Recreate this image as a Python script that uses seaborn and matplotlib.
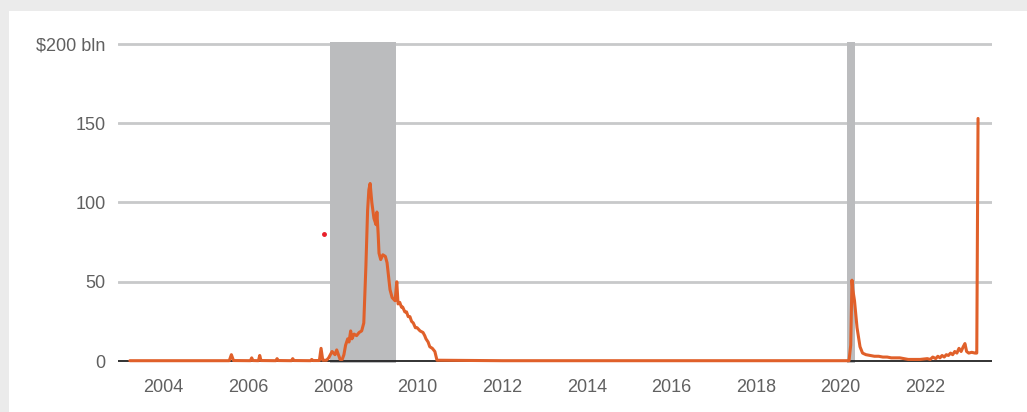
import numpy as np
import pandas as pd
import seaborn as sns
import matplotlib.pyplot as plt
from matplotlib.patches import Rectangle

# discount window borrowing, $ bln (decimal years)
years = [2003.2, 2005.55, 2005.6, 2005.65, 2006.05, 2006.08, 2006.11, 2006.24, 2006.27, 2006.3,
         2006.65, 2006.68, 2006.71, 2007.02, 2007.05, 2007.08, 2007.47, 2007.5, 2007.53,
         2007.68, 2007.72, 2007.76, 2007.85, 2007.9, 2007.98, 2008.05, 2008.09, 2008.17,
         2008.22, 2008.26, 2008.3, 2008.35, 2008.38, 2008.42, 2008.45, 2008.5, 2008.56,
         2008.62, 2008.68, 2008.73, 2008.78, 2008.82, 2008.85, 2008.88, 2008.92, 2008.97,
         2009.02, 2009.04, 2009.07, 2009.09, 2009.13, 2009.18, 2009.24, 2009.28, 2009.35,
         2009.4, 2009.47, 2009.51, 2009.54, 2009.58, 2009.62, 2009.65, 2009.7, 2009.74,
         2009.78, 2009.82, 2009.86, 2009.9, 2009.95, 2009.99, 2010.06, 2010.13, 2010.17,
         2010.2, 2010.25, 2010.29, 2010.35, 2010.41, 2010.46, 2012.0, 2016.0, 2020.2,
         2020.24, 2020.27, 2020.29, 2020.33, 2020.39, 2020.46, 2020.52, 2020.6, 2020.7,
         2020.8, 2020.9, 2021.0, 2021.1, 2021.2, 2021.4, 2021.6, 2021.88, 2022.05,
         2022.12, 2022.18, 2022.25, 2022.3, 2022.35, 2022.4, 2022.45, 2022.5, 2022.55,
         2022.6, 2022.65, 2022.7, 2022.75, 2022.8, 2022.85, 2022.9, 2022.94, 2022.98,
         2023.03, 2023.1, 2023.18, 2023.22, 2023.25]
borrowing = [0.2, 0.2, 4.0, 0.3, 0.2, 2.0, 0.3, 0.2, 3.5, 0.3,
             0.2, 1.5, 0.3, 0.2, 1.5, 0.3, 0.2, 1.0, 0.3,
             0.3, 8.0, 0.5, 0.5, 2.0, 6.0, 4.0, 7.0, 1.0,
             1.0, 4.0, 10.0, 14.0, 12.0, 19.0, 14.0, 17.0, 16.0,
             18.0, 19.0, 24.0, 60.0, 95.0, 108.0, 112.0, 100.0, 90.0,
             86.0, 94.0, 80.0, 68.0, 64.0, 67.0, 66.0, 62.0, 45.0,
             40.0, 38.0, 50.0, 36.0, 37.0, 34.0, 34.0, 31.0, 31.0,
             28.0, 28.0, 25.0, 24.0, 21.0, 21.0, 19.0, 18.0, 16.0,
             14.0, 12.0, 9.0, 8.0, 6.0, 0.5, 0.2, 0.2, 0.2,
             10.0, 51.0, 45.0, 38.0, 21.0, 9.0, 5.0, 4.0, 3.5,
             3.0, 3.0, 2.5, 2.5, 2.0, 2.0, 1.0, 1.0, 1.5,
             1.0, 2.5, 1.5, 3.0, 2.0, 3.5, 2.5, 4.0, 3.5,
             5.0, 4.0, 6.0, 5.0, 8.0, 6.0, 9.0, 11.0, 6.0,
             5.0, 5.5, 5.0, 5.0, 153.0]
stray_dot = (2007.79, 80)

recessions = [(2007.92, 2009.5), (2020.15, 2020.33)]
xticks = list(range(2004, 2023, 2))
yticks = [0, 50, 100, 150, 200]
ylabels = ['0', '50', '100', '150', '$200 bln']

df = pd.DataFrame({'year': years, 'borrowing': borrowing})

sns.set_style("white")
plt.rcParams['font.family'] = ['Liberation Sans Narrow', 'Liberation Sans', 'DejaVu Sans']

fig = plt.figure(figsize=(10.27, 4.12), dpi=100, facecolor='#ebebeb')
panel = Rectangle((9 / 1027, 0), 1, 1 - 11 / 412, transform=fig.transFigure,
                  facecolor='white', edgecolor='none')
panel.set_zorder(-10)
fig.add_artist(panel)
ax = fig.add_axes([118 / 1027, 0.1199, (992 - 118) / 1027, 0.8971 - 0.1199])
ax.set_facecolor('none')

for a, b in recessions:
    ax.axvspan(a, b, color='#bbbcbe', lw=0, zorder=1)

for y in yticks[1:]:
    ax.axhline(y, color='#c8c9ca', lw=2, zorder=0.5)
ax.axhline(0, color='#222222', lw=1.3, zorder=3)

sns.lineplot(x='year', y='borrowing', data=df, color='#e0602a', lw=2.2, ax=ax, zorder=4)
ax.plot([stray_dot[0]], [stray_dot[1]], 'o', color='#e8202a', ms=2.5, zorder=4)

ax.set_xlim(2002.92, 2023.58)
ax.set_ylim(-1, 201)
ax.set_xticks(xticks)
ax.set_xticklabels([str(t) for t in xticks])
ax.set_yticks(yticks)
ax.set_yticklabels(ylabels)
ax.tick_params(length=0, labelsize=13, labelcolor='#606060')
ax.tick_params(axis='x', pad=12)
ax.tick_params(axis='y', pad=9)
ax.set_xlabel('')
ax.set_ylabel('')
for s in ax.spines.values():
    s.set_visible(False)

fig.savefig('out.png', dpi=100, facecolor=fig.get_facecolor())
